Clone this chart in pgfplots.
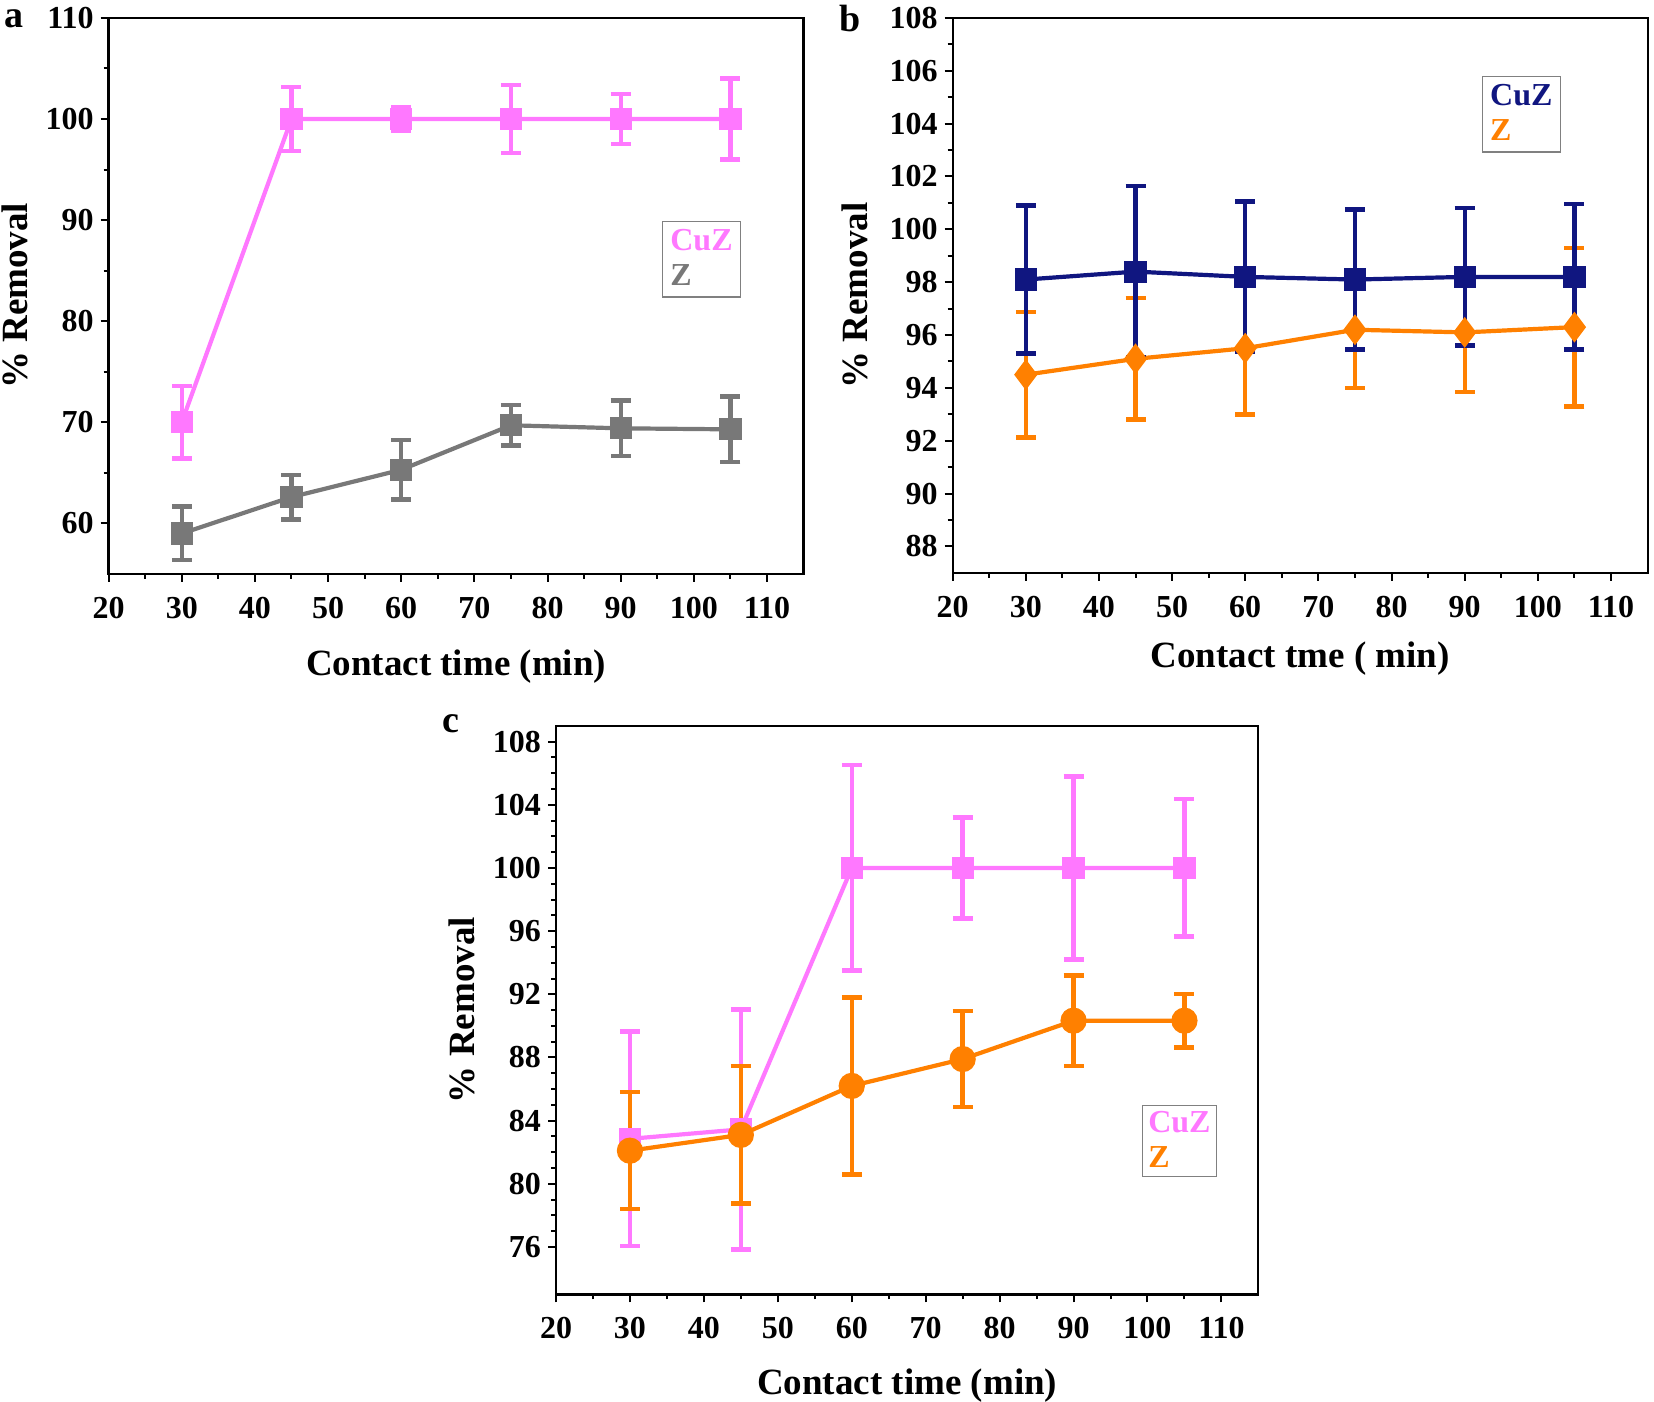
\documentclass[border=0pt]{standalone}
\usepackage{pgfplots}
\pgfplotsset{compat=1.18}
\usepackage{fontspec}
\setmainfont{Liberation Serif}
\definecolor{cuzpink}{RGB}{255,120,255}
\definecolor{zgray}{RGB}{120,120,120}
\definecolor{cuznavy}{RGB}{16,22,128}
\definecolor{zorange}{RGB}{255,128,0}
\pgfplotsset{
 panel/.style={
  scale only axis, anchor=north west,
  xmin=20, xmax=115, xtick={20,30,...,110}, minor x tick num=1,
  axis line style={line width=1.1pt},
  every tick/.style={line width=1pt, black},
  major tick length=4pt, minor tick length=2.5pt,
  tick align=outside, xtick pos=bottom, ytick pos=left,
  tick label style={font=\fontsize{16}{18}\selectfont\bfseries},
  label style={font=\fontsize{18.5}{22}\selectfont\bfseries},
  xticklabel shift=4pt, xlabel shift=9pt,
  /pgf/number format/assume math mode=true,
  legend image code/.code={},
  legend style={draw=gray, line width=0.7pt, font=\fontsize{16}{18}\selectfont\bfseries,
    inner sep=2pt, row sep=1.5pt, anchor=north west, cells={anchor=west}},
  every axis plot/.append style={line width=2.1pt},
  clip=false,
 },
 eb/.style={error bars/.cd, y dir=both, y explicit,
   error bar style={line width=2.2pt, solid},
   error mark options={rotate=90, mark size=5pt, line width=2.2pt}},
}
\begin{document}
\begin{tikzpicture}
\useasboundingbox (0,0) rectangle (827pt,-701pt);
% panel a
\begin{axis}[panel, at={(54.3pt,-8.95pt)}, width=347.5pt, height=278pt,
  ymin=55, ymax=110, ytick={60,70,...,110}, minor y tick num=1,
  xlabel={Contact time (min)}, ylabel={\% Removal}, ylabel shift=2pt,
  legend style={at={(axis cs:95.6,89.9)}}]
\addplot[color=cuzpink, mark=square*, mark size=4.5pt, eb] coordinates {
 (30,70) +- (0,3.6) (45,100) +- (0,3.15) (60,100) +- (0,1.2)
 (75,100) +- (0,3.35) (90,100) +- (0,2.5) (105,100) +- (0,4.0)};
\addlegendentry{\textcolor{cuzpink}{CuZ}}
\addplot[color=zgray, mark=square*, mark size=4.5pt, eb] coordinates {
 (30,59.0) +- (0,2.65) (45,62.6) +- (0,2.2) (60,65.3) +- (0,2.95)
 (75,69.7) +- (0,2.0) (90,69.4) +- (0,2.75) (105,69.3) +- (0,3.25)};
\addlegendentry{\textcolor{zgray}{Z}}
\end{axis}
% panel b
\begin{axis}[panel, at={(476.3pt,-8.95pt)}, width=347.5pt, height=277.5pt,
  ymin=87, ymax=108, ytick={88,90,...,108}, minor y tick num=1,
  xlabel={Contact tme ( min)}, ylabel={\% Removal}, ylabel shift=4pt,
  xlabel shift=5.5pt, reverse legend,
  legend style={at={(axis cs:92.3,105.8)}}]
\addplot[color=zorange, mark=diamond*, mark size=6pt, eb] coordinates {
 (30,94.5) +- (0,2.37) (45,95.1) +- (0,2.3) (60,95.5) +- (0,2.5)
 (75,96.2) +- (0,2.2) (90,96.1) +- (0,2.25) (105,96.3) +- (0,3.0)};
\addplot[color=cuznavy, mark=square*, mark size=4.5pt, eb] coordinates {
 (30,98.1) +- (0,2.8) (45,98.4) +- (0,3.25) (60,98.2) +- (0,2.85)
 (75,98.1) +- (0,2.65) (90,98.2) +- (0,2.6) (105,98.2) +- (0,2.75)};
\legend{\textcolor{zorange}{Z},\textcolor{cuznavy}{CuZ}}
\end{axis}
% panel c
\begin{axis}[panel, at={(278pt,-362.9pt)}, width=351.2pt, height=284.3pt,
  ymin=73, ymax=109, ytick={76,80,...,108}, minor y tick num=3,
  xlabel={Contact time (min)}, ylabel={\% Removal}, ylabel shift=2pt,
  xlabel shift=8pt,
  legend style={at={(axis cs:99.2,85.0)}, inner sep=1pt}]
\addplot[color=cuzpink, mark=square*, mark size=4.5pt, eb] coordinates {
 (30,82.85) +- (0,6.8) (45,83.45) +- (0,7.6) (60,100) +- (0,6.5)
 (75,100) +- (0,3.2) (90,100) +- (0,5.8) (105,100) +- (0,4.35)};
\addlegendentry{\textcolor{cuzpink}{CuZ}}
\addplot[color=zorange, mark=*, mark size=5.5pt, eb] coordinates {
 (30,82.1) +- (0,3.7) (45,83.1) +- (0,4.35) (60,86.2) +- (0,5.6)
 (75,87.9) +- (0,3.05) (90,90.33) +- (0,2.85) (105,90.33) +- (0,1.7)};
\addlegendentry{\textcolor{zorange}{Z}}
\end{axis}
\node[font=\fontsize{19}{22}\selectfont\bfseries] at (6.8pt,-9.5pt) {a};
\node[font=\fontsize{19}{22}\selectfont\bfseries] at (425pt,-9.5pt) {b};
\node[font=\fontsize{19}{22}\selectfont\bfseries] at (225.5pt,-362pt) {c};
\end{tikzpicture}
\end{document}
